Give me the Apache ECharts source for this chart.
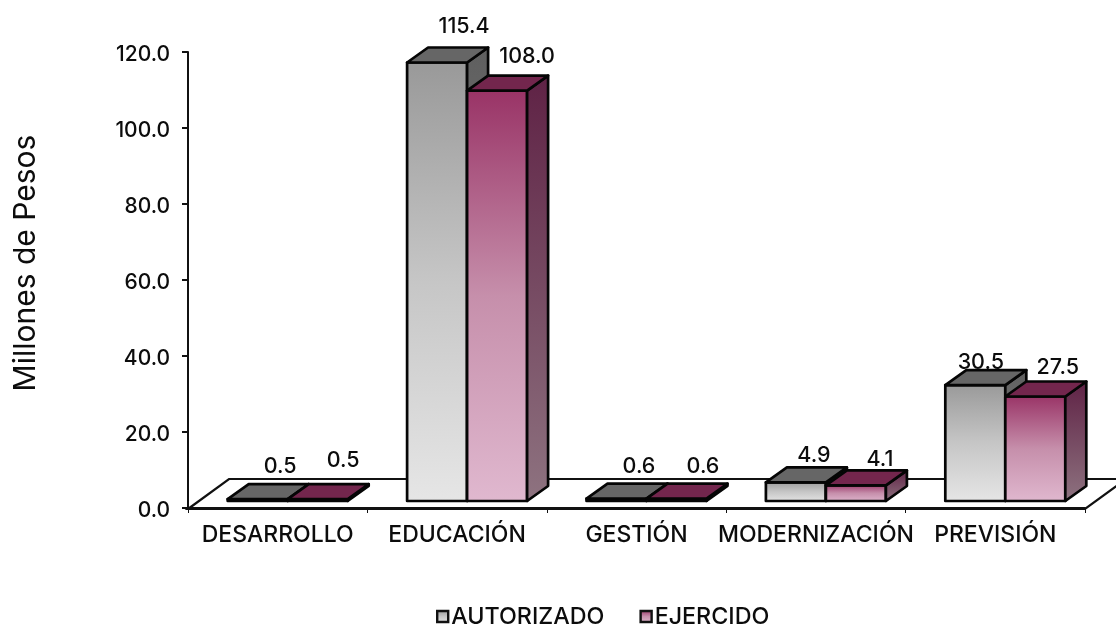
<!DOCTYPE html>
<html><head><meta charset="utf-8">
<style>html,body{margin:0;padding:0;background:#fff}#c{width:1116px;height:625px}</style>
<script src="https://cdn.jsdelivr.net/npm/echarts@6/dist/echarts.min.js"></script>
</head><body><div id="c"></div>
<script>
const categories = ['DESARROLLO','EDUCACIÓN','GESTIÓN','MODERNIZACIÓN','PREVISIÓN'];
const autorizado = [0.5,115.4,0.6,4.9,30.5];
const ejercido = [0.5,108.0,0.6,4.1,27.5];
const yTicks = {min:0,max:120,interval:20};

const FONT = 'Inter';
const INK = '#0c0c0c';
const LG = (stops)=>({type:'linear',x:0,y:0,x2:0,y2:1,colorStops:stops.map((c,i)=>({offset:i/(stops.length-1),color:c}))});
const greyFront = LG(['#999999','#c6c6c6','#e6e6e6']), greySide = LG(['#5f5f5f','#8a8a8a']);
const plumFront = LG(['#993366','#c68fab','#e0b8cf']), plumSide = LG(['#5f2245','#8e7380']);
const DEPTH = [21,-15], BASE = [10,-7], BAR = 60;
const stroke = {stroke:'#050505',lineWidth:2.7,lineJoin:'round'};
// hand-placed value labels of the original, relative to the top centre of each bar's front
const nudgeA = [[22.5,-33.5],[27,-36.5],[22.5,-33],[18,-27],[5.5,-23]];
const nudgeE = [[25.5,-39.5],[30,-35],[26.5,-33],[24,-26],[22.5,-29]];

function barRenderer(slot, front, side, top, nudge){
  return (params, api)=>{
    const i = api.value(0), v = api.value(1);
    const p0 = api.coord([i,0]), p1 = api.coord([i,v]);
    const x0 = p0[0]+BASE[0]+(slot===0?-BAR:0), x1 = x0+BAR;
    const yb = p0[1]+BASE[1], yt = p1[1]+BASE[1];
    const [dx,dy] = DEPTH;
    const n = nudge[i];
    return {type:'group',children:[
      {type:'polygon',shape:{points:[[x0,yb],[x1,yb],[x1,yt],[x0,yt]]},style:{fill:front,...stroke}},
      {type:'polygon',shape:{points:[[x1,yb],[x1+dx,yb+dy],[x1+dx,yt+dy],[x1,yt]]},style:{fill:side,...stroke}},
      {type:'polygon',shape:{points:[[x0,yt],[x1,yt],[x1+dx,yt+dy],[x0+dx,yt+dy]]},style:{fill:top,...stroke}},
      {type:'text',style:{text:v.toFixed(1),x:(x0+x1)/2+n[0],y:yt+n[1]+0.5,align:'center',verticalAlign:'middle',font:'500 21.5px "'+FONT+'"',fill:INK}}
    ]};
  };
}
function floorRenderer(params, api){
  const c = params.coordSys, b = c.y+c.height+1, r = c.x+c.width, dx = 41, dy = -30;
  return {type:'polygon',shape:{points:[[c.x,b],[c.x+dx,b+dy],[r+dx,b+dy],[r,b]]},style:{fill:'#fff',stroke:'#111',lineWidth:2.2}};
}
const chart = echarts.init(document.getElementById('c'),null,{renderer:'canvas'});
chart.setOption({
  animation:false,
  backgroundColor:'#fff',
  grid:{left:188,top:52,width:897,height:456,containLabel:false},
  legend:{left:431,top:600,itemWidth:11,itemHeight:11,itemGap:35,icon:'rect',
    itemStyle:{borderColor:'#111',borderWidth:2.4},
    data:['AUTORIZADO','EJERCIDO'],
    textStyle:{fontFamily:FONT,fontWeight:500,fontSize:23.3,color:INK,padding:[0,0,0,-2]}},
  xAxis:{type:'category',data:categories,boundaryGap:true,
    axisLine:{lineStyle:{color:'#111',width:2}},
    axisTick:{show:true,length:5,lineStyle:{color:'#111',width:1}},
    axisLabel:{interval:0,fontFamily:FONT,fontWeight:500,fontSize:23,color:INK,margin:16},z:3},
  yAxis:{type:'value',min:yTicks.min,max:yTicks.max,interval:yTicks.interval,
    name:'Millones de Pesos',nameLocation:'middle',nameGap:147,nameRotate:90,
    nameTextStyle:{fontFamily:FONT,fontSize:30,color:INK,padding:[0,0,0,34]},
    splitLine:{show:false},
    axisLine:{show:true,lineStyle:{color:'#111',width:2}},
    axisTick:{show:true,length:6,lineStyle:{color:'#111',width:2}},
    axisLabel:{fontFamily:FONT,fontWeight:500,fontSize:21,color:INK,margin:18,verticalAlign:'top',lineHeight:5,formatter:v=>v.toFixed(1)},z:3},
  series:[
    {type:'custom',name:'floor',silent:true,z:1,data:[[0,0]],renderItem:floorRenderer,encode:{x:0,y:1}},
    {type:'custom',name:'AUTORIZADO',z:2,data:autorizado.map((v,i)=>[i,v]),encode:{x:0,y:1},
     itemStyle:{color:greyFront,borderColor:'#111',borderWidth:2},
     renderItem:barRenderer(0,greyFront,greySide,'#666666',nudgeA)},
    {type:'custom',name:'EJERCIDO',z:2,data:ejercido.map((v,i)=>[i,v]),encode:{x:0,y:1},
     itemStyle:{color:plumFront,borderColor:'#111',borderWidth:2},
     renderItem:barRenderer(1,plumFront,plumSide,'#73264d',nudgeE)}
  ]
});
</script></body></html>
